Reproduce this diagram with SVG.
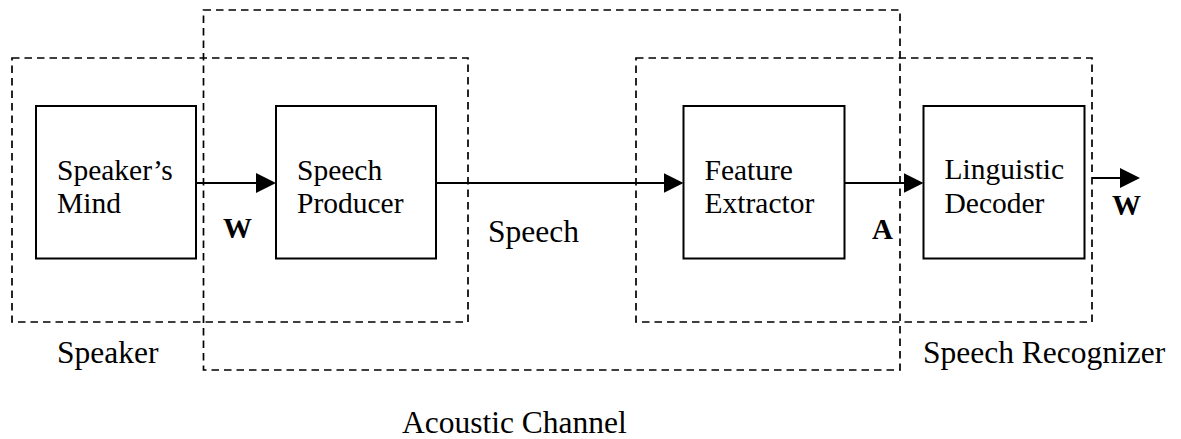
<svg xmlns="http://www.w3.org/2000/svg" width="1181" height="439" viewBox="0 0 1181 439">
  <style>
    .bg { fill: #ffffff; }
    .block { fill: none; stroke: #000; stroke-width: 2; }
    .group { fill: none; stroke: #000; stroke-width: 1.7; stroke-dasharray: 7.5 5; }
    .wire { fill: none; stroke: #000; stroke-width: 1.8; marker-end: url(#head); }
    text { font-family: "Liberation Serif", "Times New Roman", "DejaVu Serif", serif; fill: #000; }
    .lbl { font-size: 29.5px; }
    .cap { font-size: 31.5px; }
    .sym { font-size: 29px; font-weight: bold; }
  </style>
  <defs>
    <marker id="head" markerUnits="userSpaceOnUse" markerWidth="20" markerHeight="20" refX="18" refY="10" orient="auto">
      <path d="M0,0 L20,10 L0,20 Z" fill="#000"/>
    </marker>
  </defs>

  <rect class="bg" x="0" y="0" width="1181" height="439"/>

  <!-- dashed subsystem outlines -->
  <g id="speaker">
    <rect class="group" x="12" y="58" width="456" height="264"/>
    <text class="cap" x="57" y="363">Speaker</text>
  </g>
  <g id="acoustic-channel">
    <rect class="group" x="203.5" y="10" width="696.5" height="360"/>
    <text class="cap" x="402" y="433">Acoustic Channel</text>
  </g>
  <g id="speech-recognizer">
    <rect class="group" x="636" y="58" width="456" height="264"/>
    <text class="cap" x="923" y="363">Speech Recognizer</text>
  </g>

  <!-- processing blocks -->
  <g id="speakers-mind">
    <rect class="block" x="36" y="106" width="160" height="152.5"/>
    <text class="lbl" x="57" y="180">Speaker’s</text>
    <text class="lbl" x="57" y="213">Mind</text>
  </g>
  <g id="speech-producer">
    <rect class="block" x="276" y="106" width="160" height="152.5"/>
    <text class="lbl" x="297" y="180">Speech</text>
    <text class="lbl" x="297" y="213">Producer</text>
  </g>
  <g id="feature-extractor">
    <rect class="block" x="683.5" y="106" width="161" height="152.5"/>
    <text class="lbl" x="704.5" y="180">Feature</text>
    <text class="lbl" x="704.5" y="213">Extractor</text>
  </g>
  <g id="linguistic-decoder">
    <rect class="block" x="923.5" y="106" width="161" height="152.5"/>
    <text class="lbl" x="944.5" y="179">Linguistic</text>
    <text class="lbl" x="944.5" y="213">Decoder</text>
  </g>

  <!-- signal flow -->
  <g id="connectors">
    <path class="wire" d="M196,183 H274"/>
    <path class="wire" d="M436,183 H681.5"/>
    <path class="wire" d="M844.5,183 H921.5"/>
    <path class="wire" d="M1092,178 H1138"/>
    <text class="sym" x="223" y="238">W</text>
    <text class="cap" x="488" y="242">Speech</text>
    <text class="sym" x="872" y="239">A</text>
    <text class="sym" x="1112" y="215">W</text>
  </g>
</svg>
